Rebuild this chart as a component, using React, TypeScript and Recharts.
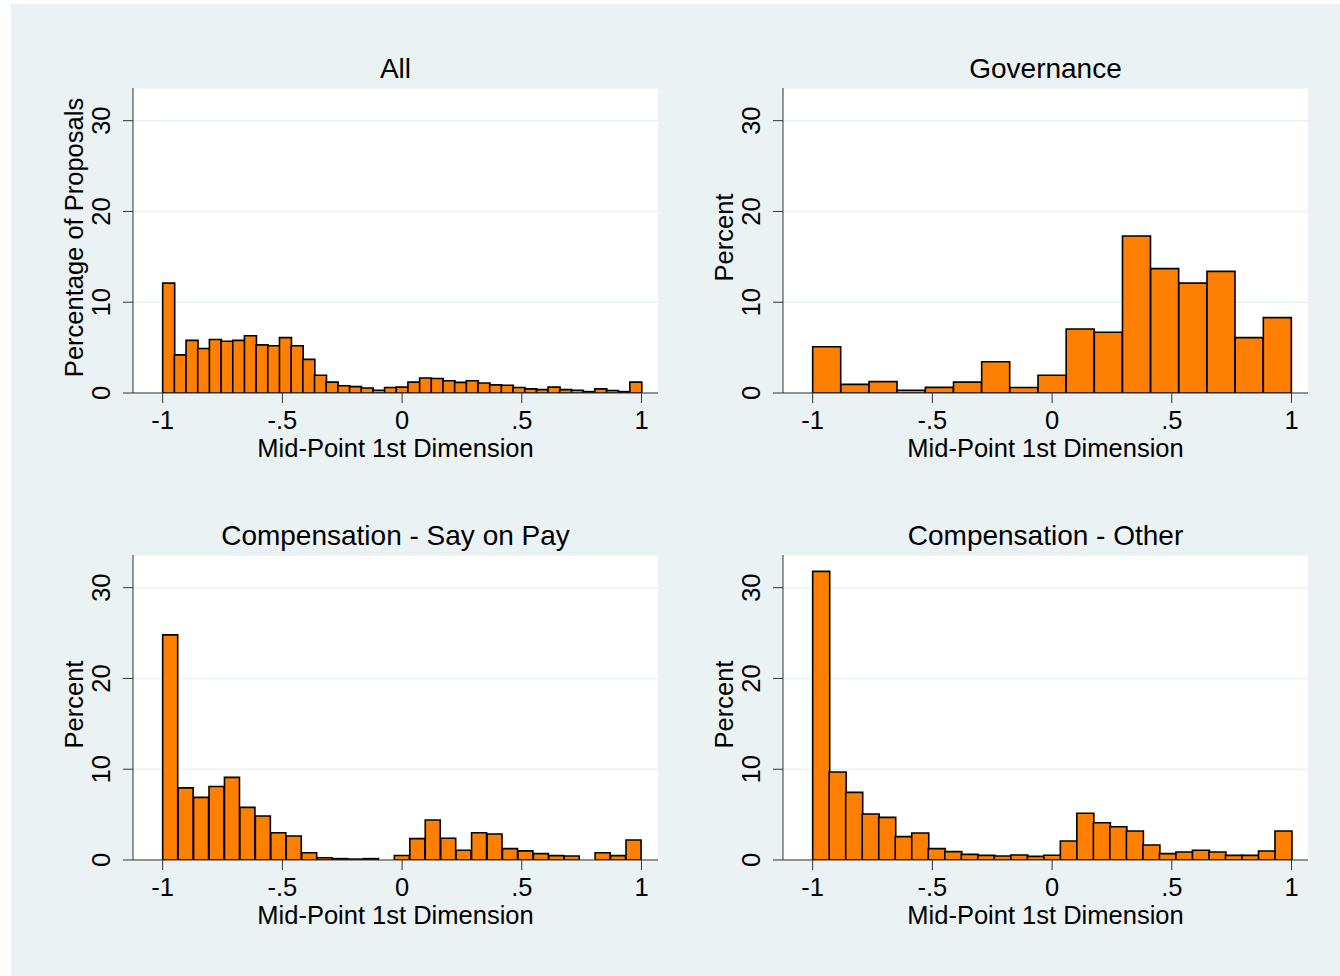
import React from "react"
import { BarChart, Bar, XAxis, YAxis, CartesianGrid } from "recharts"

const FONT = "'Liberation Sans', Arial, Helvetica, sans-serif"
const BG = "#eaf2f3"
const ORANGE = "#ff8000"
const AXIS = "#333333"

// shared axes
const xTicks = [-1, -0.5, 0, 0.5, 1]
const xTickLabels = ["-1", "-.5", "0", ".5", "1"]
const yTicks = [0, 10, 20, 30]
const xTitle = "Mid-Point 1st Dimension"

// percent of proposals per bin, bins spread evenly over -1..1
const allPct = [
    12.1, 4.2, 5.8, 4.9, 5.9, 5.7, 5.8, 6.3, 5.3, 5.2,
    6.1, 5.2, 3.7, 1.95, 1.2, 0.8, 0.7, 0.55, 0.3, 0.6,
    0.65, 1.2, 1.65, 1.6, 1.35, 1.17, 1.35, 1.1, 0.9, 0.85,
    0.6, 0.45, 0.37, 0.65, 0.37, 0.3, 0.15, 0.45, 0.27, 0.15, 1.2,
]
const governancePct = [
    5.1, 0.95, 1.25, 0.3, 0.62, 1.2, 3.45, 0.6, 1.95,
    7.05, 6.7, 17.3, 13.7, 12.1, 13.4, 6.1, 8.3,
]
const sayOnPayPct = [
    24.8, 7.95, 6.9, 8.1, 9.1, 5.8, 4.85, 3.0, 2.65, 0.8,
    0.25, 0.15, 0.1, 0.15, 0, 0.5, 2.35, 4.4, 2.4, 1.07,
    3.0, 2.87, 1.25, 1.0, 0.7, 0.48, 0.44, 0, 0.8, 0.48, 2.2,
]
const compOtherPct = [
    31.8, 9.7, 7.45, 5.07, 4.7, 2.57, 2.98, 1.25, 0.92, 0.62,
    0.51, 0.44, 0.55, 0.4, 0.53, 2.1, 5.15, 4.1, 3.67, 3.2,
    1.65, 0.7, 0.88, 1.07, 0.88, 0.51, 0.51, 0.99, 3.2,
]

const PLOT_W = 525
const PLOT_H = 305
const Y_W = 90
const X_H = 80
const LABEL_SIZE = 25.5

const XTick = ({ x, y, payload }: any) => (
    <text x={x} y={y + 26} textAnchor="middle" fontSize={LABEL_SIZE} fontFamily={FONT} fill="#000">
        {xTickLabels[xTicks.indexOf(payload.value)]}
    </text>
)

const YTick = ({ x, y, payload }: any) => (
    <text
        x={x - 13}
        y={y}
        transform={`rotate(-90 ${x - 13} ${y})`}
        textAnchor="middle"
        fontSize={LABEL_SIZE}
        fontFamily={FONT}
        fill="#000"
    >
        {payload.value}
    </text>
)

function Panel({ title, yTitle, values, left, top }: { title: string; yTitle: string; values: number[]; left: number; top: number }) {
    const n = values.length
    const data = values.map((pct, i) => ({ mid: -1 + (2 * i + 1) / n, pct }))

    return (
        <div style={{ position: "absolute", left: left - Y_W, top: top - 50 }}>
            <div
                style={{
                    position: "absolute",
                    left: Y_W,
                    top: 16.5,
                    width: PLOT_W,
                    textAlign: "center",
                    fontFamily: FONT,
                    fontSize: 28,
                    lineHeight: "28px",
                    color: "#000",
                    whiteSpace: "nowrap",
                }}
            >
                {title}
            </div>
            <div style={{ position: "absolute", left: 0, top: 40 }}>
                <BarChart
                    width={Y_W + PLOT_W + 10}
                    height={10 + PLOT_H + X_H}
                    data={data}
                    margin={{ top: 10, right: 10, bottom: 0, left: 0 }}
                    barCategoryGap={0}
                    barGap={0}
                >
                    <CartesianGrid vertical={false} stroke={BG} strokeWidth={1.5} fill="#ffffff" />
                    <XAxis
                        dataKey="mid"
                        type="number"
                        domain={[-1.124, 1.069]}
                        allowDataOverflow
                        ticks={xTicks}
                        interval={0}
                        height={X_H}
                        tickSize={10}
                        tickMargin={0}
                        stroke={AXIS}
                        tick={<XTick />}
                        label={(p: any) => (
                            <text
                                x={p.viewBox.x + p.viewBox.width / 2}
                                y={p.viewBox.y + 63.5}
                                textAnchor="middle"
                                fontSize={LABEL_SIZE}
                                fontFamily={FONT}
                                fill="#000"
                            >
                                {xTitle}
                            </text>
                        )}
                    />
                    <YAxis
                        type="number"
                        domain={[0, 33.6]}
                        allowDataOverflow
                        ticks={yTicks}
                        interval={0}
                        width={Y_W}
                        tickSize={10}
                        tickMargin={0}
                        stroke={AXIS}
                        tick={<YTick />}
                        label={(p: any) => {
                            const bx = p.viewBox.x + p.viewBox.width - 50
                            const cy = p.viewBox.y + p.viewBox.height / 2 - 3
                            return (
                                <text
                                    x={bx}
                                    y={cy}
                                    transform={`rotate(-90 ${bx} ${cy})`}
                                    textAnchor="middle"
                                    fontSize={LABEL_SIZE}
                                    fontFamily={FONT}
                                    fill="#000"
                                >
                                    {yTitle}
                                </text>
                            )
                        }}
                    />
                    <Bar dataKey="pct" fill={ORANGE} stroke="#000" strokeWidth={1.6} isAnimationActive={false} />
                </BarChart>
            </div>
        </div>
    )
}

export default function App() {
    return (
        <div style={{ position: "absolute", left: 0, top: 0, width: 1340, height: 976, background: "#ffffff", overflow: "hidden" }}>
            <div style={{ position: "absolute", left: 11, top: 4, width: 1329, height: 972, background: BG }}>
                {/* panel positions are the plot-area corners, offset by the grey frame */}
                <Panel title="All" yTitle="Percentage of Proposals" values={allPct} left={133 - 11} top={88 - 4} />
                <Panel title="Governance" yTitle="Percent" values={governancePct} left={783 - 11} top={88 - 4} />
                <Panel title="Compensation - Say on Pay" yTitle="Percent" values={sayOnPayPct} left={133 - 11} top={555 - 4} />
                <Panel title="Compensation - Other" yTitle="Percent" values={compOtherPct} left={783 - 11} top={555 - 4} />
            </div>
        </div>
    )
}
